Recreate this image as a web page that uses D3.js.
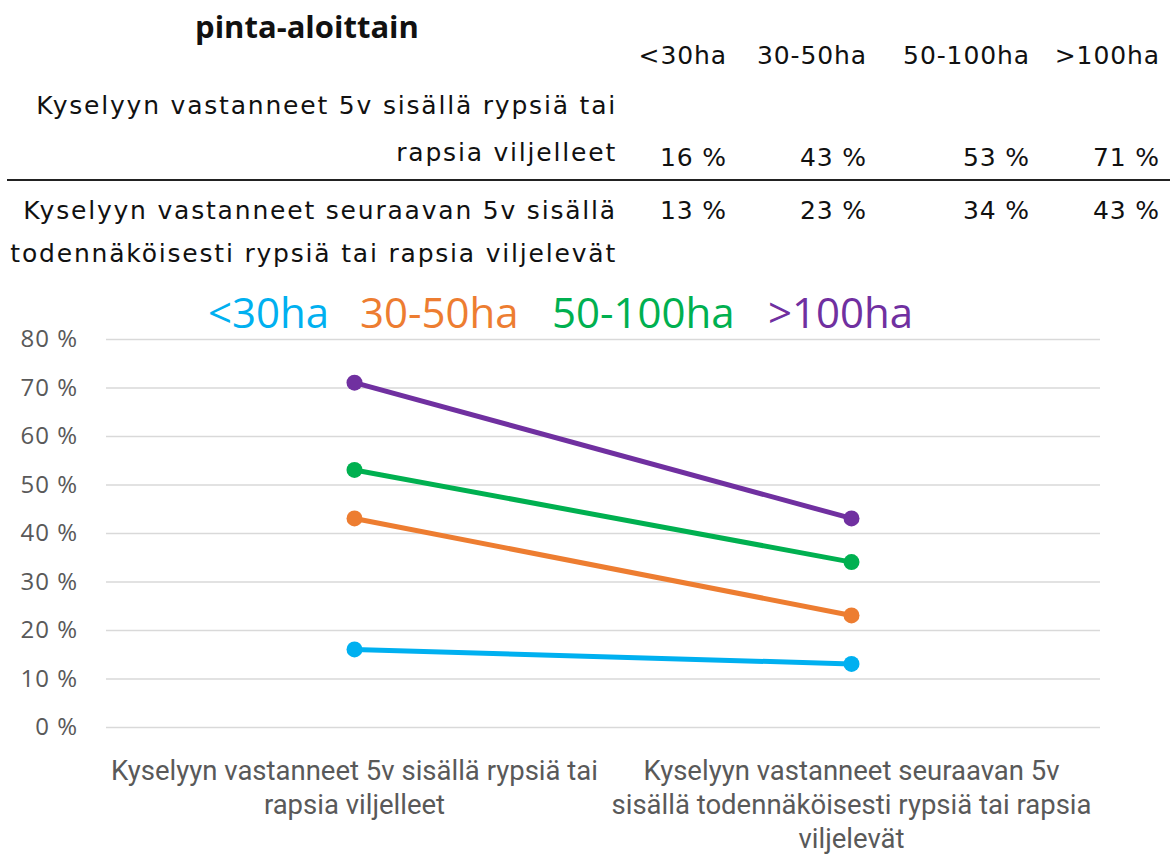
<!DOCTYPE html>
<html>
<head>
<meta charset="utf-8">
<script src="https://cdn.jsdelivr.net/npm/d3@7"></script>
<style>
  body { margin: 0; background: #fff; }
  svg { display: block; font-family: "Open Sans", sans-serif; }
  .tt { font-family: "DejaVu Sans", sans-serif; font-size: 25px; letter-spacing: 0.9px; fill: #111; }
  .rl { letter-spacing: 1.8px; }
</style>
</head>
<body>
<div id="chart"></div>
<script>
const groups = ["<30ha", "30-50ha", "50-100ha", ">100ha"];
const colors = ["#00B0F0", "#ED7D31", "#00B050", "#7030A0"];
const rowLabels = [
    ["Kyselyyn vastanneet 5v sisällä rypsiä tai", "rapsia viljelleet"],
    ["Kyselyyn vastanneet seuraavan 5v sisällä", "todennäköisesti rypsiä tai rapsia viljelevät"]
];
const axisLabels = [
    ["Kyselyyn vastanneet 5v sisällä rypsiä tai", "rapsia viljelleet"],
    ["Kyselyyn vastanneet seuraavan 5v", "sisällä todennäköisesti rypsiä tai rapsia", "viljelevät"]
];
const past = [0.16, 0.43, 0.53, 0.71];
const future = [0.13, 0.23, 0.34, 0.43];
const yTicks = [0, 0.1, 0.2, 0.3, 0.4, 0.5, 0.6, 0.7, 0.8];

const W = 1173, H = 855;
const svg = d3.select("#chart").append("svg")
    .attr("width", W)
    .attr("height", H);

// ---- table above the chart ----
const tbl = svg.append("g");
tbl.append("text")
    .attr("x", 307).attr("y", 38)
    .attr("text-anchor", "middle")
    .style("font-size", "31px").style("font-weight", "bold")
    .style("fill", "#111")
    .text("pinta-aloittain");

const colRight = [727, 867, 1030, 1160];
tbl.selectAll(".hdr").data(groups).enter().append("text")
    .attr("class", "tt")
    .attr("x", (d, i) => colRight[i]).attr("y", 64)
    .attr("text-anchor", "end")
    .text(d => d);

const pct = d3.format(".0%");
const pctSp = v => pct(v).replace("%", " %");

rowLabels[0].forEach((t, j) => {
    tbl.append("text").attr("class", "tt rl")
        .attr("x", 617).attr("y", 114 + j * 47)
        .attr("text-anchor", "end").text(t);
});
tbl.selectAll(".v1").data(past).enter().append("text")
    .attr("class", "tt")
    .attr("x", (d, i) => colRight[i]).attr("y", 166)
    .attr("text-anchor", "end")
    .text(pctSp);

tbl.append("line").attr("x1", 7).attr("x2", 1170).attr("y1", 180).attr("y2", 180)
    .style("stroke", "#222").style("stroke-width", 2);

rowLabels[1].forEach((t, j) => {
    tbl.append("text").attr("class", "tt rl")
        .attr("x", 617).attr("y", 219 + j * 43)
        .attr("text-anchor", "end").text(t);
});
tbl.selectAll(".v2").data(future).enter().append("text")
    .attr("class", "tt")
    .attr("x", (d, i) => colRight[i]).attr("y", 219)
    .attr("text-anchor", "end")
    .text(pctSp);

// ---- legend ----
const legX = [208, 360, 552, 768];
svg.selectAll(".leg").data(groups).enter().append("text")
    .attr("x", (d, i) => legX[i]).attr("y", 328)
    .style("font-size", "42px")
    .style("fill", (d, i) => colors[i])
    .text(d => d);

// ---- chart ----
const plotL = 106, plotR = 1100, plotT = 339, plotB = 727;
const x = d3.scaleBand().domain([0, 1]).range([plotL, plotR]);
const y = d3.scaleLinear().domain([0, 0.8]).range([plotB, plotT]);

const yAxis = d3.axisLeft(y).tickValues(yTicks).tickFormat(pctSp)
    .tickSize(-(plotR - plotL)).tickPadding(28);
svg.append("g")
    .attr("transform", `translate(${plotL},0)`)
    .call(yAxis)
    .call(g => g.select(".domain").remove())
    .call(g => g.selectAll(".tick line").style("stroke", "#d9d9d9").style("stroke-width", 1.5))
    .call(g => g.selectAll(".tick text").style("font-size", "24px").style("letter-spacing", "1px")
        .style("fill", "#595959").style("font-family", "'Open Sans', sans-serif"));

const series = groups.map((g, i) => ({ name: g, color: colors[i], values: [past[i], future[i]] }));
const line = d3.line().x((d, i) => x(i) + x.bandwidth() / 2).y(d => y(d));

const sg = svg.selectAll(".series").data(series).enter().append("g");
sg.append("path")
    .attr("d", d => line(d.values))
    .style("fill", "none")
    .style("stroke", d => d.color)
    .style("stroke-width", 5);
sg.selectAll("circle").data(d => d.values.map(v => ({ v, c: d.color }))).enter().append("circle")
    .attr("cx", (d, i) => x(i) + x.bandwidth() / 2)
    .attr("cy", d => y(d.v))
    .attr("r", 8)
    .style("fill", d => d.c);

// category labels
axisLabels.forEach((lines, i) => {
    lines.forEach((t, j) => {
        svg.append("text")
            .attr("x", x(i) + x.bandwidth() / 2)
            .attr("y", 780 + j * 34)
            .attr("text-anchor", "middle")
            .style("font-size", "27.5px")
            .style("fill", "#595959")
            .style("font-family", "Roboto, sans-serif")
            .text(t);
    });
});
</script>
</body>
</html>
